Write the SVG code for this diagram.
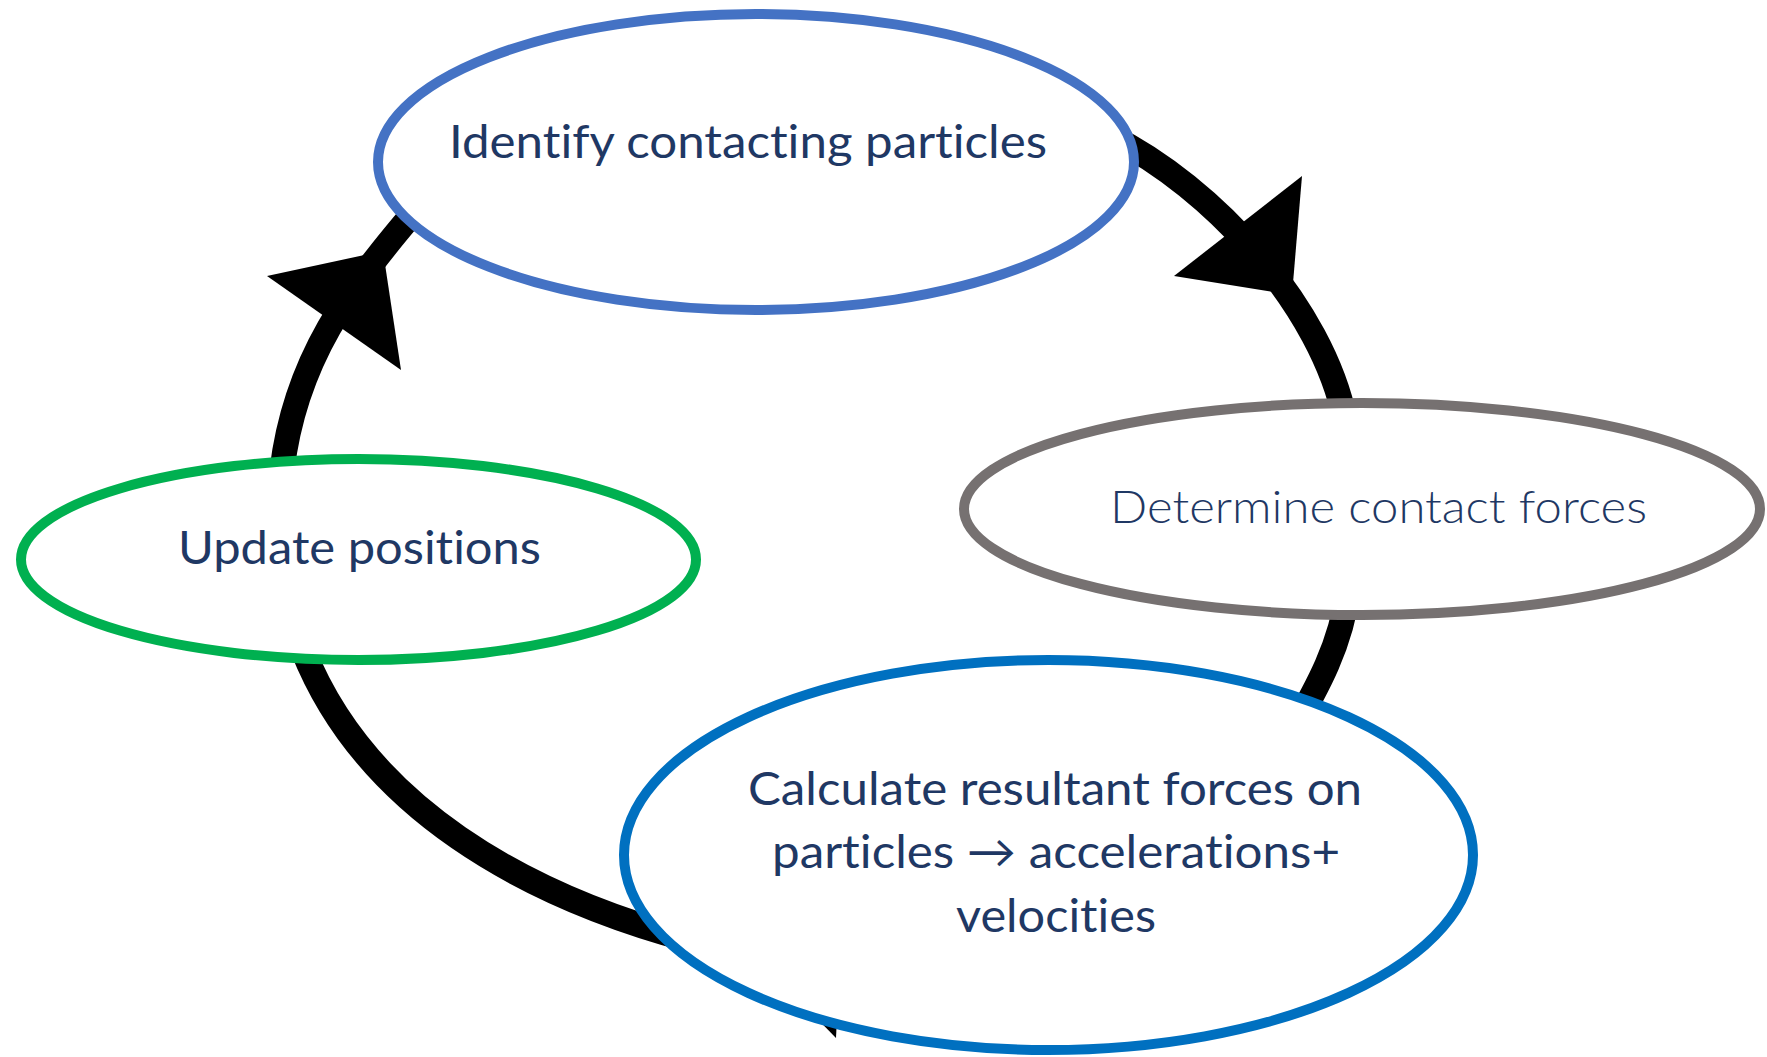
<svg xmlns="http://www.w3.org/2000/svg" width="1767" height="1057" viewBox="0 0 1767 1057">
  <style>
    .ring { fill: none; stroke: #000; stroke-width: 25; stroke-linecap: butt; stroke-linejoin: round; }
    .head { fill: #000; }
    .node { fill: #fff; stroke-width: 10; }
    .lbl { font-family: Lato, "Open Sans", "Liberation Sans", sans-serif; font-size: 46px; fill: #1F3864; font-variant-ligatures: none; }
    .light { font-weight: 300; }
  </style>
  <rect width="1767" height="1057" fill="#fff"/>

  <!-- cycle ring: four arcs running clockwise, their ends tucked under the step ellipses -->
  <g id="connectors">
    <path class="ring" d="M1080,122 L1110,136 C1213,187 1322.5,307.3 1345,420 L1352,455"/>
    <path class="ring" d="M1350,570 L1348,590 C1341.4,644.5 1317.5,687.4 1290,735 L1280,752"/>
    <path class="ring" d="M720,948 L690,940 C526,896 366,808 303,650 L296,632"/>
    <path class="ring" d="M280,500 L282,470 C295,360 348.5,288.6 420,205 L445,178"/>
    <!-- arrowheads -->
    <polygon class="head" points="1302,176 1174,276 1292,295"/>
    <polygon class="head" points="836,1038 844,874 752,952"/>
    <polygon class="head" points="267,276 401,370 383,251"/>
  </g>

  <g id="identify">
    <ellipse class="node" cx="756" cy="162" rx="378" ry="148" stroke="#4472C4"/>
    <text class="lbl" x="449" y="158" textLength="598" lengthAdjust="spacingAndGlyphs">Identify contacting particles</text>
  </g>

  <g id="determine">
    <ellipse class="node" cx="1362" cy="509" rx="398" ry="106" stroke="#767171"/>
    <text class="lbl light" x="1110" y="523" textLength="537" lengthAdjust="spacingAndGlyphs">Determine contact forces</text>
  </g>

  <g id="calculate">
    <ellipse class="node" cx="1048.5" cy="855" rx="424.5" ry="195" stroke="#0070C0"/>
    <text class="lbl" x="748" y="805" textLength="614" lengthAdjust="spacingAndGlyphs">Calculate resultant forces on</text>
    <text class="lbl" x="772" y="868" textLength="568" lengthAdjust="spacingAndGlyphs">particles → accelerations+</text>
    <text class="lbl" x="956" y="932" textLength="200" lengthAdjust="spacingAndGlyphs">velocities</text>
  </g>

  <g id="update">
    <ellipse class="node" cx="358.5" cy="559.5" rx="337.5" ry="100.5" stroke="#00B050"/>
    <text class="lbl" x="178" y="564" textLength="363" lengthAdjust="spacingAndGlyphs">Update positions</text>
  </g>
</svg>
